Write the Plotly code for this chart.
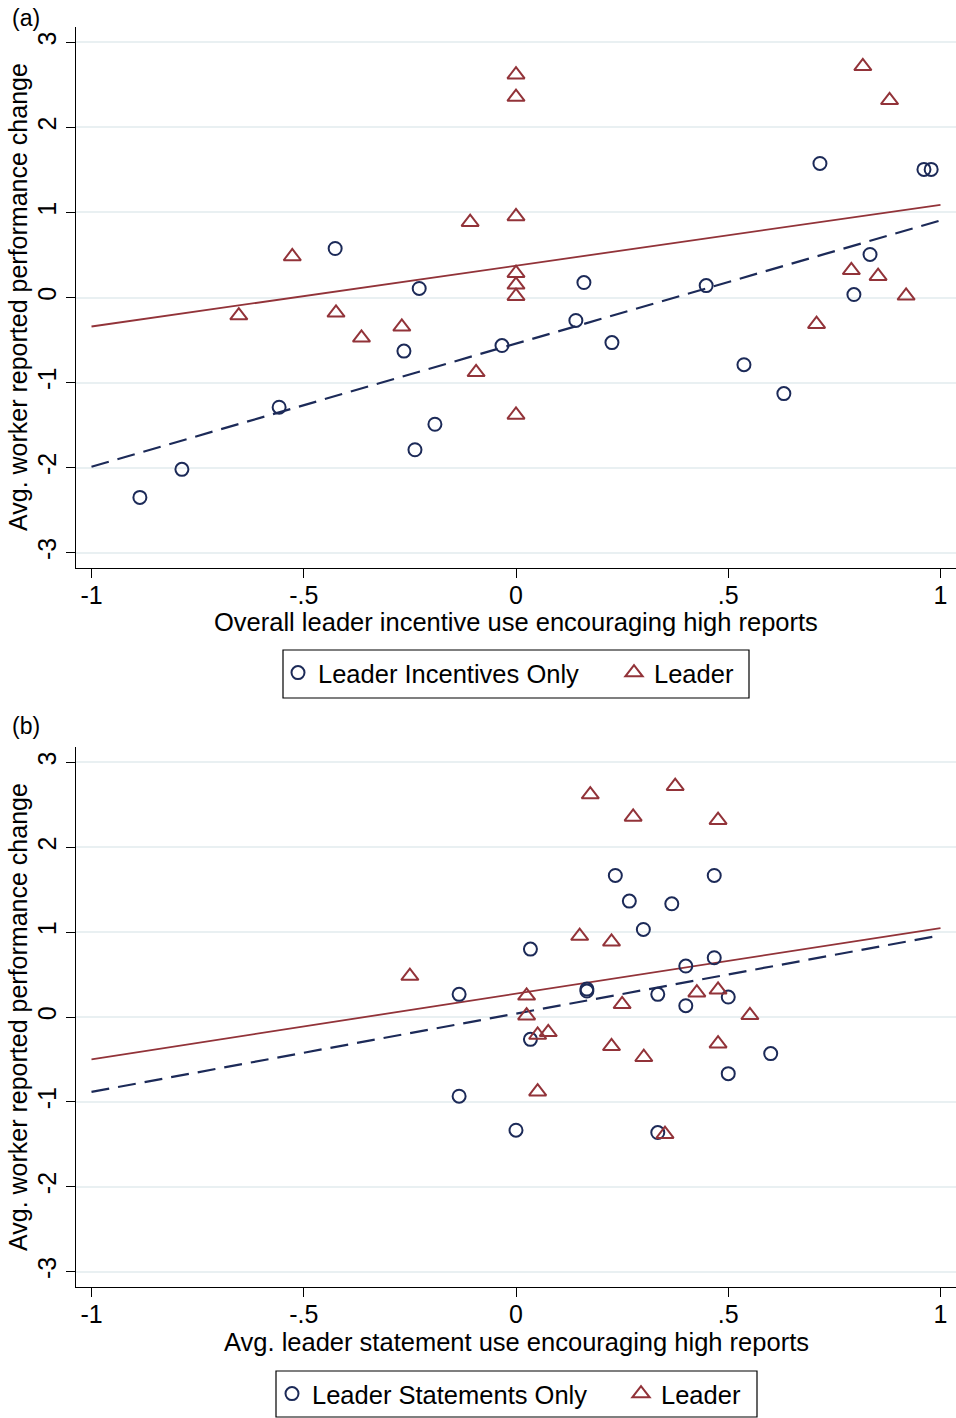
import plotly.graph_objects as go

# ---------------- Data: panel (a) ----------------
a_inc_x = [-0.886, -0.787, -0.558, -0.426, -0.264, -0.238, -0.228, -0.191, -0.033, 0.141,
           0.160, 0.226, 0.448, 0.537, 0.631, 0.716, 0.796, 0.834, 0.961, 0.978]
a_inc_y = [-2.35, -2.02, -1.29, 0.576, -0.63, -1.79, 0.106, -1.49, -0.565, -0.27,
           0.176, -0.53, 0.14, -0.79, -1.13, 1.576, 0.035, 0.506, 1.506, 1.506]

a_lead_x = [-0.653, -0.527, -0.424, -0.364, -0.269, -0.108, -0.094, 0.0, 0.0, 0.0,
            0.0, 0.0, 0.0, 0.0, 0.708, 0.790, 0.817, 0.853, 0.880, 0.919]
a_lead_y = [-0.212, 0.482, -0.18, -0.474, -0.345, 0.886, -0.879, 2.62, 2.356, 0.953,
            0.286, 0.149, 0.016, -1.38, -0.314, 0.32, 2.718, 0.25, 2.318, 0.02]

# fitted lines (intercept, slope)
a_fit_inc = (-0.542, 1.448)
a_fit_lead = (0.374, 0.715)

# ---------------- Data: panel (b) ----------------
b_stmt_x = [0.234, 0.467, 0.267, 0.367, 0.300, 0.034, 0.400, 0.467, -0.134, 0.167,
            0.167, 0.334, 0.500, 0.400, 0.034, 0.600, 0.500, -0.134, 0.0, 0.334]
b_stmt_y = [1.667, 1.667, 1.365, 1.333, 1.031, 0.80, 0.60, 0.698, 0.267, 0.329,
            0.306, 0.267, 0.235, 0.133, -0.263, -0.431, -0.667, -0.933, -1.333, -1.361]

b_lead_x = [0.175, 0.375, 0.276, 0.476, 0.150, 0.225, -0.25, 0.025, 0.025, 0.051,
            0.076, 0.25, 0.426, 0.476, 0.551, 0.225, 0.301, 0.476, 0.051, 0.351]
b_lead_y = [2.62, 2.718, 2.356, 2.318, 0.953, 0.886, 0.482, 0.25, 0.016, -0.212,
            -0.18, 0.149, 0.286, 0.32, 0.02, -0.345, -0.474, -0.314, -0.879, -1.38]

b_fit_stmt = (0.04, 0.922)
b_fit_lead = (0.275, 0.773)

fit_range = [-1, 1]

x_ticks = [-1, -0.5, 0, 0.5, 1]
x_ticktext = ["-1", "-.5", "0", ".5", "1"]
y_ticks = [-3, -2, -1, 0, 1, 2, 3]
y_ticktext = ["-3", "-2", "-1", "0", "1", "2", "3"]

NAVY = "#1c2a58"
MAROON = "#923339"
GRID = "#e9f0f2"
FONT = "Liberation Sans, Arial, Helvetica, sans-serif"
FS = 25
FT = 25.5

W, H = 956, 1418


def PX(px):
    return px / W


def PY(py):
    return (H - py) / H


fig = go.Figure()


def fit_y(coef, xs):
    return [coef[0] + coef[1] * x for x in xs]


def add_panel(xa, ya, leg1, leg2, cx, cy, lx, ly, fit_c, fit_l, name_c):
    fig.add_trace(go.Scatter(
        x=fit_range, y=fit_y(fit_c, fit_range), mode="lines",
        line=dict(color=NAVY, width=2.2, dash="18px,9px"),
        xaxis=xa, yaxis=ya, showlegend=False, hoverinfo="skip"))
    fig.add_trace(go.Scatter(
        x=fit_range, y=fit_y(fit_l, fit_range), mode="lines",
        line=dict(color=MAROON, width=1.8),
        xaxis=xa, yaxis=ya, showlegend=False, hoverinfo="skip"))
    fig.add_trace(go.Scatter(
        x=cx, y=cy, mode="markers", name=name_c,
        marker=dict(symbol="circle-open", size=13, color=NAVY, line=dict(width=2, color=NAVY)),
        xaxis=xa, yaxis=ya, legend=leg1))
    fig.add_trace(go.Scatter(
        x=lx, y=ly, mode="markers", name="Leader",
        marker=dict(symbol="triangle-up-open", size=15, color=MAROON, line=dict(width=2, color=MAROON)),
        xaxis=xa, yaxis=ya, legend=leg2))


add_panel("x", "y", "legend", "legend2", a_inc_x, a_inc_y, a_lead_x, a_lead_y,
          a_fit_inc, a_fit_lead, "Leader Incentives Only")
add_panel("x2", "y2", "legend3", "legend4", b_stmt_x, b_stmt_y, b_lead_x, b_lead_y,
          b_fit_stmt, b_fit_lead, "Leader Statements Only")

dom_x = [PX(76), 1]
dom_a = [PY(568), PY(27)]
dom_b = [PY(1287), PY(747)]

xaxis_common = dict(
    range=[-1.0365, 1.0365], tickvals=x_ticks, ticktext=x_ticktext,
    showline=True, linecolor="black", linewidth=1.3, ticks="outside",
    ticklen=9, tickwidth=1.3, tickcolor="black", showgrid=False, zeroline=False,
    tickfont=dict(size=FS, color="black", family=FONT), domain=dom_x,
    ticklabelstandoff=-4, automargin=False, fixedrange=True)
yaxis_common = dict(
    range=[-3.18, 3.18], tickvals=y_ticks, ticktext=y_ticktext, tickangle=-90,
    showline=True, linecolor="black", linewidth=1.3, ticks="outside",
    ticklen=9, tickwidth=1.3, tickcolor="black", showgrid=True, gridcolor=GRID,
    gridwidth=1.5, zeroline=False, tickfont=dict(size=FS, color="black", family=FONT),
    automargin=False, fixedrange=True)


def leg(marker_px, center_py):
    return dict(orientation="h", x=PX(marker_px - 20), xanchor="left",
                y=PY(center_py), yanchor="middle", borderwidth=0,
                bgcolor="rgba(0,0,0,0)", itemwidth=30,
                font=dict(size=FT, family=FONT, color="black"))


fig.update_layout(
    width=W, height=H, margin=dict(l=0, r=0, t=0, b=0),
    paper_bgcolor="white", plot_bgcolor="white",
    font=dict(family=FONT, size=FS, color="black"),
    xaxis=dict(**xaxis_common, anchor="y"),
    yaxis=dict(**yaxis_common, domain=dom_a, anchor="x"),
    xaxis2=dict(**xaxis_common, anchor="y2"),
    yaxis2=dict(**yaxis_common, domain=dom_b, anchor="x2"),
    legend=leg(298, 673),
    legend2=leg(634, 673),
    legend3=leg(292, 1394),
    legend4=leg(641, 1394),
    showlegend=True,
)

# legend frames
for (x0, y0, x1, y1) in [(283, 650, 749, 698), (276, 1371, 757, 1417)]:
    fig.add_shape(type="rect", xref="paper", yref="paper",
                  x0=PX(x0), x1=PX(x1), y0=PY(y1), y1=PY(y0),
                  line=dict(color="black", width=1.2), fillcolor="rgba(0,0,0,0)")

annotations = [
    dict(text="(a)", x=PX(10), y=PY(18), xanchor="left", size=23),
    dict(text="(b)", x=PX(10), y=PY(726), xanchor="left", size=23),
    dict(text="Overall leader incentive use encouraging high reports", x=PX(516),
         y=PY(622), xanchor="center", size=FT),
    dict(text="Avg. leader statement use encouraging high reports", x=PX(516),
         y=PY(1342), xanchor="center", size=FT),
]
for a in annotations:
    fig.add_annotation(text=a["text"], xref="paper", yref="paper", x=a["x"], y=a["y"],
                       xanchor=a["xanchor"], yanchor="middle", showarrow=False,
                       font=dict(size=a["size"], family=FONT, color="black"))

for yc in [297, 1017]:
    fig.add_annotation(text="Avg. worker reported performance change", xref="paper", yref="paper",
                       x=PX(18), y=PY(yc), xanchor="center", yanchor="middle",
                       textangle=-90, showarrow=False,
                       font=dict(size=FS, family=FONT, color="black"))

fig.write_html("out.html", config={"displayModeBar": False},
               post_script="document.body.style.margin='0';document.body.style.overflow='hidden';")
